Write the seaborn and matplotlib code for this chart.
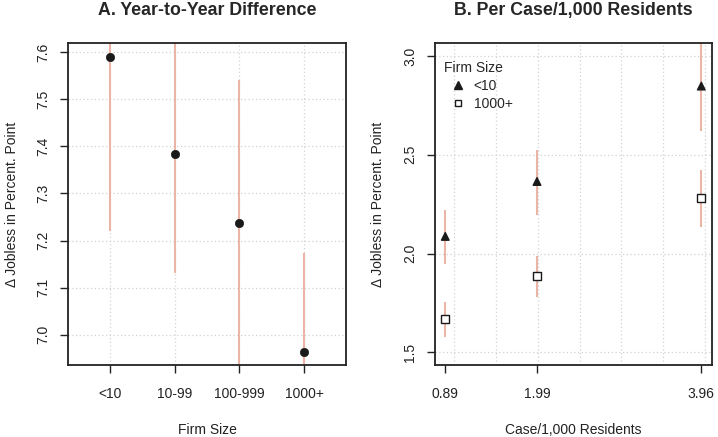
import numpy as np
import pandas as pd
import seaborn as sns
import matplotlib.pyplot as plt
from matplotlib.lines import Line2D

sns.set_theme(style="white")
plt.rcParams["font.family"] = ["Liberation Sans", "DejaVu Sans"]

# ---- data -------------------------------------------------------------
firm_sizes = ["<10", "10-99", "100-999", "1000+"]
a_est = [7.590, 7.383, 7.237, 6.963]
a_lo = [7.221, 7.131, 6.934, 6.752]
a_hi = [7.959, 7.635, 7.540, 7.174]

cases = [0.89, 1.99, 3.96]
small_est = [2.087, 2.365, 2.848]
small_lo = [1.949, 2.197, 2.618]
small_hi = [2.219, 2.525, 3.078]
large_est = [1.668, 1.885, 2.281]
large_lo = [1.579, 1.780, 2.135]
large_hi = [1.756, 1.990, 2.424]

a_yticks = [7.0, 7.1, 7.2, 7.3, 7.4, 7.5, 7.6]
b_yticks = [1.5, 2.0, 2.5, 3.0]
b_xgrid = [1.0, 1.5, 2.0, 2.5, 3.0, 3.5, 4.0]

ci_color = "#ecb4a6"
ink = "#1a1a1a"
grid_kw = dict(color="#d2d2d2", linestyle=(0, (1, 2)), linewidth=0.9, zorder=0)

df_a = pd.DataFrame({"size": firm_sizes, "est": a_est, "lo": a_lo, "hi": a_hi})
df_a["pos"] = np.arange(len(df_a))

df_b = pd.DataFrame({
    "cases": cases * 2,
    "est": small_est + large_est,
    "lo": small_lo + large_lo,
    "hi": small_hi + large_hi,
    "Firm Size": ["<10"] * 3 + ["1000+"] * 3,
})

fig = plt.figure(figsize=(7.18, 4.37), dpi=100)
ax1 = fig.add_axes([0.0947, 0.1648, 0.3872, 0.7368])
ax2 = fig.add_axes([0.6054, 0.1648, 0.3862, 0.7368])


def style_axes(ax):
    for sp in ax.spines.values():
        sp.set_color("#222222")
        sp.set_linewidth(1.3)
    ax.tick_params(axis="both", which="major", direction="out", length=5.5,
                   width=1.0, color="#222222", labelsize=10, pad=7,
                   labelcolor="#222222", bottom=True, left=True)
    ax.tick_params(axis="x", pad=10)
    for lab in ax.get_yticklabels():
        lab.set_rotation(90)
        lab.set_va("center")


# ---- panel A ----------------------------------------------------------
for y in a_yticks:
    ax1.axhline(y, **grid_kw)
for x in df_a["pos"]:
    ax1.axvline(x, **grid_kw)
ax1.vlines(df_a["pos"], df_a["lo"], df_a["hi"], color=ci_color, lw=1.5, zorder=2)
sns.scatterplot(data=df_a, x="pos", y="est", ax=ax1, color=ink,
                s=36, marker="o", edgecolor=ink, zorder=3, legend=False)
ax1.set_xlim(-0.65, 3.65)
ax1.set_ylim(6.936, 7.619)
ax1.set_xticks(df_a["pos"])
ax1.set_xticklabels(firm_sizes)
ax1.set_yticks(a_yticks)
ax1.set_yticklabels([f"{v:.1f}" for v in a_yticks])
ax1.set_xlabel("Firm Size", fontsize=10, labelpad=16, color="#222222")
ax1.set_ylabel("\u0394 Jobless in Percent. Point", fontsize=10, labelpad=13,
               color="#222222")
ax1.set_title("A. Year-to-Year Difference", fontsize=12.8, fontweight="bold",
              pad=20)
style_axes(ax1)

# ---- panel B ----------------------------------------------------------
for y in b_yticks:
    ax2.axhline(y, **grid_kw)
for x in b_xgrid:
    ax2.axvline(x, **grid_kw)
ax2.vlines(df_b["cases"], df_b["lo"], df_b["hi"], color=ci_color, lw=1.5, zorder=2)
sns.scatterplot(data=df_b, x="cases", y="est", style="Firm Size",
                markers={"<10": "^", "1000+": "s"}, ax=ax2, s=30,
                color=ink, zorder=3, legend=False)
ax2.set_xlim(0.763, 4.088)
ax2.set_ylim(1.436, 3.066)
ax2.set_xticks(cases)
ax2.set_xticklabels([f"{c:.2f}" for c in cases])
ax2.set_yticks(b_yticks)
ax2.set_yticklabels([f"{v:.1f}" for v in b_yticks])
ax2.set_xlabel("Case/1,000 Residents", fontsize=10, labelpad=16, color="#222222")
ax2.set_ylabel("\u0394 Jobless in Percent. Point", fontsize=10, labelpad=13,
               color="#222222")
ax2.set_title("B. Per Case/1,000 Residents", fontsize=12.8, fontweight="bold",
              pad=20)
style_axes(ax2)

# filled triangles for <10, open squares for 1000+
sc = ax2.collections[-1]
sc.set_facecolors([ink if g == "<10" else (1, 1, 1, 1) for g in df_b["Firm Size"]])
sc.set_edgecolors(ink)
sc.set_linewidths(1.0)

handles = [
    Line2D([], [], marker="^", linestyle="none", color=ink, markersize=6),
    Line2D([], [], marker="s", linestyle="none", markerfacecolor="white",
           markeredgecolor=ink, markersize=5),
]
ax2.legend(handles, ["<10", "1000+"], title="Firm Size", loc="upper left",
           frameon=False, fontsize=10, title_fontsize=10, handletextpad=0.1,
           borderaxespad=0.3, labelspacing=0.3, alignment="left",
           bbox_to_anchor=(0.0, 0.975))

fig.savefig("out.png", dpi=100)
